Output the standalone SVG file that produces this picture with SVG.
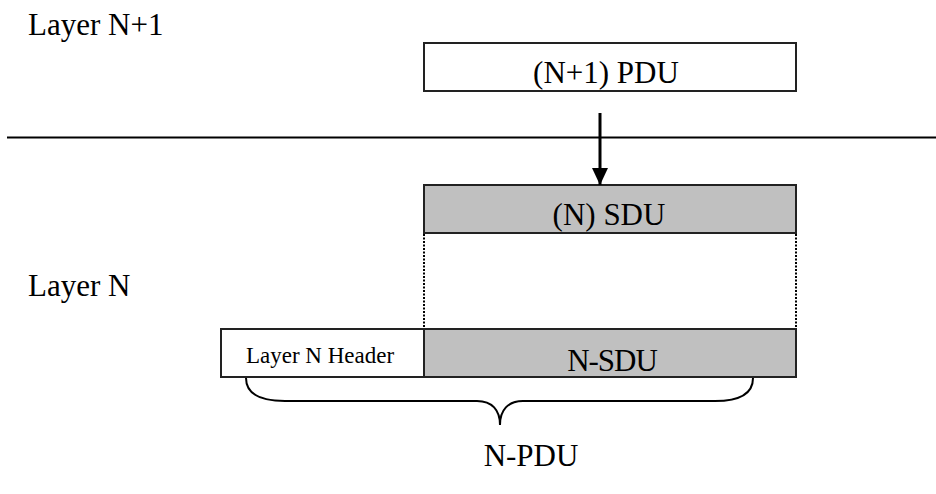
<svg xmlns="http://www.w3.org/2000/svg" width="936" height="494" viewBox="0 0 936 494">
<style>
text{font-family:"Liberation Serif","Times New Roman",serif;fill:#000}
.big{font-size:31px}
.small{font-size:23px}
.box{stroke:#222;stroke-width:2}
.white{fill:#fff}
.gray{fill:#c0c0c0}
.dot{stroke:#000;stroke-width:2;stroke-dasharray:2 1.5;fill:none}
</style>
<defs>
<marker id="ah" viewBox="0 0 17 16" refX="17" refY="8" markerWidth="17" markerHeight="16" markerUnits="userSpaceOnUse" orient="auto">
<path d="M0,0 L17,8 L0,16 Z" fill="#000"/>
</marker>
</defs>
<text class="big" x="28" y="35">Layer N+1</text>
<text class="big" x="28" y="296">Layer N</text>
<line x1="7" y1="137.5" x2="936" y2="137.5" stroke="#000" stroke-width="2"/>
<g id="n1pdu">
<rect class="box white" x="424" y="43" width="372" height="48"/>
<text class="big" x="606" y="83" text-anchor="middle">(N+1) PDU</text>
</g>
<g id="nsdu">
<rect class="box gray" x="424" y="185" width="372" height="48"/>
<text class="big" x="609" y="225" text-anchor="middle">(N) SDU</text>
</g>
<g id="header">
<rect class="box white" x="221" y="329" width="203" height="48"/>
<text class="small" x="320" y="363" text-anchor="middle">Layer N Header</text>
</g>
<g id="nsdu2">
<rect class="box gray" x="424" y="329" width="372" height="48"/>
<text class="big" x="612" y="371" text-anchor="middle" letter-spacing="-1">N-SDU</text>
</g>
<g id="npdu">
<path d="M246,378 C246,395 262,401 285,401 L477,401 C492,401 500,410 500,425 C500,410 508,401 523,401 L715,401 C738,401 753,395 753,378" fill="none" stroke="#000" stroke-width="2"/>
<text class="big" x="531" y="466" text-anchor="middle">N-PDU</text>
</g>
<g id="connectors">
<line x1="600" y1="113" x2="600" y2="185" stroke="#000" stroke-width="3" marker-end="url(#ah)"/>
<line class="dot" x1="424" y1="234" x2="424" y2="328"/>
<line class="dot" x1="796" y1="234" x2="796" y2="328"/>
</g>
</svg>
